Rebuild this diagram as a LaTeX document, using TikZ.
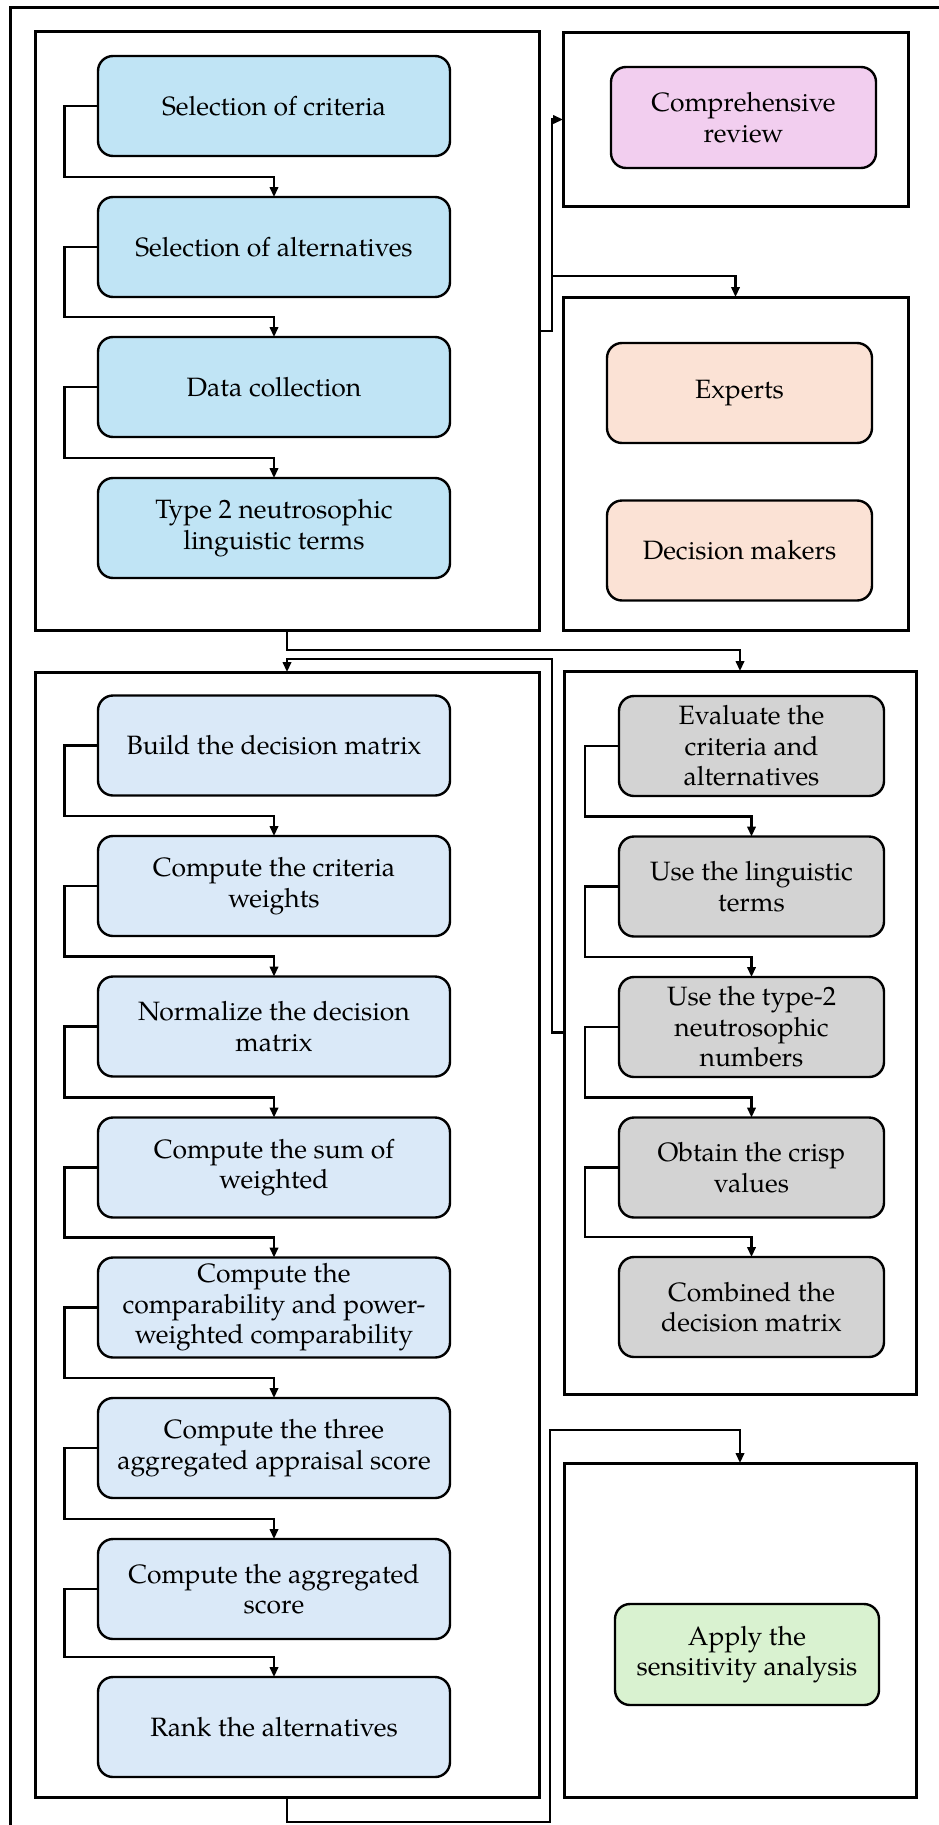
\documentclass[tikz,border=0pt]{standalone}
\usepackage{fontspec}
\setmainfont{TeX Gyre Pagella}
\usetikzlibrary{arrows.meta,calc}
\definecolor{topblue}{HTML}{C0E4F5}
\definecolor{botblue}{HTML}{DAE9F8}
\definecolor{evalgray}{HTML}{D3D3D3}
\definecolor{pinkbox}{HTML}{F2CEEF}
\definecolor{peachbox}{HTML}{FBE2D5}
\definecolor{greenbox}{HTML}{D9F2D0}
\begin{document}
\begin{tikzpicture}[x=1pt,y=-1pt,
  panel/.style={draw, line width=3pt, rectangle, inner sep=0pt, outer sep=0pt},
  stepbox/.style={draw, line width=2.4pt, rectangle, rounded corners=15pt, align=center,
    inner sep=0pt, outer sep=0pt, minimum height=100pt, text=black,
    font=\fontsize{26.5}{30.5}\selectfont},
  wbox/.style={stepbox, minimum width=352pt},
  nbox/.style={stepbox, minimum width=265pt},
  arr/.style={line width=2.2pt, -{Triangle[length=10pt,width=8.5pt]}},
  frame/.style={line width=3pt}
]
\useasboundingbox (0,0) rectangle (938,1825);

% outer frame (cut by the page on the right and at the bottom)
\draw[frame] (10,1835) -- (10,8) -- (950,8);

% panels
\node[panel, minimum width=504pt, minimum height=598pt] (P1) at (287,331) {};
\node[panel, minimum width=345pt, minimum height=173pt] (P2) at (735.5,119.5) {};
\node[panel, minimum width=345pt, minimum height=333pt] (P3) at (735.5,463.5) {};
\node[panel, minimum width=352pt, minimum height=723pt] (P4) at (740,1032.5) {};
\node[panel, minimum width=504pt, minimum height=1125pt] (P5) at (287,1234.5) {};
\node[panel, minimum width=352pt, minimum height=334pt] (P6) at (740,1630) {};

% top-left boxes
\node[wbox, fill=topblue] (a1) at (274,106) {Selection of criteria};
\node[wbox, fill=topblue] (a2) at (274,247) {Selection of alternatives};
\node[wbox, fill=topblue] (a3) at (274,387) {Data collection};
\node[wbox, fill=topblue] (a4) at (274,528) {Type 2 neutrosophic\\linguistic terms};

% comprehensive review, experts
\node[nbox, fill=pinkbox, minimum height=101pt] (c1) at (743.5,117.5) {Comprehensive\\review};
\node[nbox, fill=peachbox] (e1) at (739.5,393) {Experts};
\node[nbox, fill=peachbox] (e2) at (739.5,550.5) {Decision makers};

% bottom-left boxes
\node[wbox, fill=botblue] (b1) at (274,745.5) {Build the decision matrix};
\node[wbox, fill=botblue] (b2) at (274,886) {Compute the criteria\\weights};
\node[wbox, fill=botblue] (b3) at (274,1026.5) {Normalize the decision\\matrix};
\node[wbox, fill=botblue] (b4) at (274,1167.5) {Compute the sum of\\weighted};
\node[wbox, fill=botblue] (b5) at (274,1307.5) {Compute the\\comparability and power-\\weighted comparability};
\node[wbox, fill=botblue] (b6) at (274,1448) {Compute the three\\aggregated appraisal score};
\node[wbox, fill=botblue] (b7) at (274,1589) {Compute the aggregated\\score};
\node[wbox, fill=botblue] (b8) at (274,1727) {Rank the alternatives};

% evaluation boxes
\node[nbox, fill=evalgray] (v1) at (751.5,746) {Evaluate the\\criteria and\\alternatives};
\node[nbox, fill=evalgray] (v2) at (751.5,886.5) {Use the linguistic\\terms};
\node[nbox, fill=evalgray] (v3) at (751.5,1027) {Use the type-2\\neutrosophic\\numbers};
\node[nbox, fill=evalgray] (v4) at (751.5,1167.5) {Obtain the crisp\\values};
\node[nbox, fill=evalgray] (v5) at (751.5,1307) {Combined the\\decision matrix};

% sensitivity
\node[nbox, fill=greenbox, minimum width=264pt, minimum height=101pt] (s1) at (747,1654.5) {Apply the\\sensitivity analysis};

% connectors inside the columns
\foreach \u/\v in {a1/a2,a2/a3,a3/a4,b1/b2,b2/b3,b3/b4,b4/b5,b5/b6,b6/b7,b7/b8}
  \draw[arr] (\u.west) -- ++(-33.5,0) |- ($(\v.north)+(0,-20)$) -- (\v.north);
\foreach \u/\v in {v1/v2,v2/v3,v3/v4,v4/v5}
  \draw[arr] (\u.west) -- ++(-34,0) |- ($(\v.north)+(0,-20)$) -- (\v.north);

% connectors between panels
\coordinate (j1) at ($(P1.east)+(13,0)$);
\coordinate (k1) at ($(P3.north)+(0,-21)$);
\draw[arr] (P1.east) -- (j1) |- (P2.west);
\draw[arr] (j1 |- k1) -| (P3.north);
\draw[arr] (P1.south) -- ++(0,20) -| (P4.north);
\draw[arr] (P4.west) -- ++(-12,0) |- ($(P5.north)+(0,-13)$) -- (P5.north);
\coordinate (k2) at ($(P6.north)+(0,-33)$);
\draw[arr] (P5.south) -- ++(0,25) -- ++(263,0) |- (k2) -- (P6.north);
\end{tikzpicture}
\end{document}
